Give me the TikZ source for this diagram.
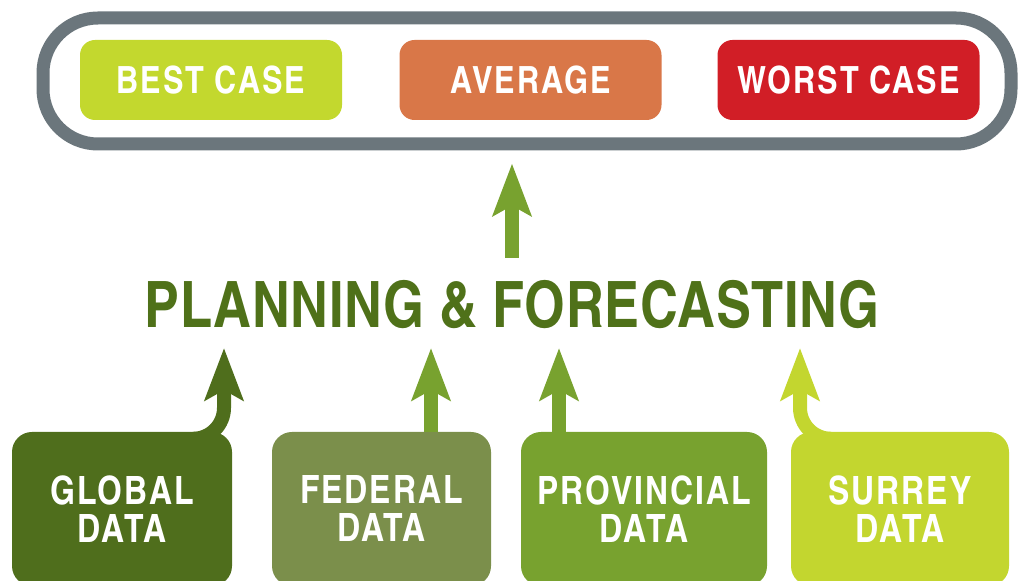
\documentclass[tikz,border=0pt]{standalone}
\usepackage{fontspec}
\usepackage{tikz}
\usepackage{xcolor}
\usetikzlibrary{arrows.meta}
\newfontfamily\boxfont{texgyreheroscn-bold}[Extension=.otf,LetterSpace=5]
\newfontfamily\planfont{texgyreheroscn-bold}[Extension=.otf,LetterSpace=1]
\definecolor{framegray}{HTML}{6B767C}
\definecolor{bestc}{HTML}{C3D82E}
\definecolor{avgc}{HTML}{D97748}
\definecolor{worstc}{HTML}{D11E26}
\definecolor{globalc}{HTML}{4F6E1C}
\definecolor{federalc}{HTML}{7B8F4B}
\definecolor{provc}{HTML}{78A22F}
\definecolor{surreyc}{HTML}{C3D62F}
\definecolor{plangreen}{HTML}{4F7119}
\tikzstyle{case} = [rectangle, rounded corners=15pt, minimum width=262pt, minimum height=80pt, text=white, font=\boxfont\fontsize{37.5}{40}\selectfont]
\tikzstyle{source} = [rectangle, rounded corners=20pt, minimum height=154pt, text=white, align=center, font=\boxfont\fontsize{39}{38}\selectfont]
\tikzstyle{feed} = [line width=14pt, ->]

\begin{document}
\begin{tikzpicture}[x=1pt,y=1pt,>={Stealth[length=52pt,width=38pt,inset=10pt]}]
  \clip (0,0) rectangle (1021,581);
  \node[draw=framegray, line width=13pt, rounded corners=55pt, minimum width=968pt, minimum height=126pt] (frame) at (527,500) {};
  \node[case, fill=bestc] (best) at (211,501) {BEST CASE};
  \node[case, fill=avgc] (avg) at (530.5,501) {AVERAGE};
  \node[case, fill=worstc] (worst) at (848.5,501) {WORST CASE};

  \node[anchor=south, inner sep=0pt, text height=46pt, text depth=0pt, text=plangreen, font=\planfont\fontsize{64}{64}\selectfont] (plan) at (512,253) {PLANNING \& FORECASTING};

  \node[source, fill=globalc, minimum width=220pt] (global) at (122,72) {GLOBAL\\DATA};
  \node[source, fill=federalc, minimum width=219pt] (federal) at (381.5,72) {FEDERAL\\DATA};
  \node[source, fill=provc, minimum width=246pt] (prov) at (644,72) {PROVINCIAL\\DATA};
  \node[source, fill=surreyc, minimum width=218pt] (surrey) at (900,72) {SURREY\\DATA};

  % sources feeding the plan
  \draw[feed, globalc, shorten >=20pt] ([shift={(71,-7)}]global.north) to[out=0,in=-90] ++(31,31) -- (224,0 |- plan.south);
  \draw[feed, provc, shorten >=20pt] ([xshift=49.5pt]federal.north) -- (431,0 |- plan.south);
  \draw[feed, provc, shorten >=20pt] ([xshift=-85pt]prov.north) -- (559,0 |- plan.south);
  \draw[feed, surreyc, shorten >=20pt] ([shift={(-69,-7)}]surrey.north) to[out=180,in=-90] ++(-31,31) -- (800,0 |- plan.south);

  \draw[feed, provc, shorten >=13pt] ([yshift=24pt]plan.north) -- (plan.north |- frame.south);
\end{tikzpicture}
\end{document}
